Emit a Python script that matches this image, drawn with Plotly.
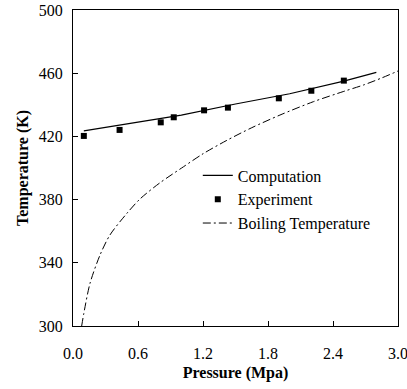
import plotly.graph_objects as go

comp_p = [0.1, 0.5, 1.0, 1.5, 2.0, 2.5, 2.8]
comp_t = [423.5, 428.0, 433.5, 440.5, 447.0, 455.0, 460.5]

exp_p = [0.10, 0.43, 0.81, 0.93, 1.21, 1.43, 1.90, 2.20, 2.50]
exp_t = [420.3, 424.1, 428.9, 432.1, 436.5, 438.2, 444.1, 448.9, 455.3]

boil_p = [0.08, 0.10, 0.157, 0.25, 0.34, 0.5, 0.62, 0.8, 1.02, 1.2, 1.42, 1.65, 1.91, 2.22, 2.5, 2.68, 2.85, 3.02]
boil_t = [300, 308, 327, 345, 357.5, 371.5, 380.5, 390.5, 400.8, 409, 417.5, 425.5, 433.5, 442, 448.5, 452.5, 457, 462]

x_ticks = [0.0, 0.6, 1.2, 1.8, 2.4, 3.0]
x_tick_text = ["0.0", "0.6", "1.2", "1.8", "2.4", "3.0"]
y_ticks = [300, 340, 380, 420, 460, 500]

font = "Times New Roman, Liberation Serif, serif"
f16 = dict(family=font, size=16, color="black")

fig = go.Figure()
fig.add_trace(go.Scatter(x=comp_p, y=comp_t, mode="lines", name="Computation",
                         line=dict(color="black", width=1.2)))
fig.add_trace(go.Scatter(x=exp_p, y=exp_t, mode="markers", name="Experiment",
                         marker=dict(symbol="square", size=6, color="black")))
fig.add_trace(go.Scatter(x=boil_p, y=boil_t, mode="lines", name="Boiling Temperature",
                         line=dict(color="black", width=1, dash="8px,3px,2px,3px",
                                   shape="spline", smoothing=0.8)))

fig.update_layout(
    width=407, height=389,
    margin=dict(l=73, r=9, t=10, b=63),
    plot_bgcolor="white", paper_bgcolor="white",
    font=f16,
    showlegend=True,
    legend=dict(x=0.384, y=0.53, xanchor="left", yanchor="top",
                bgcolor="rgba(0,0,0,0)", borderwidth=0,
                font=f16, tracegroupgap=0),
    xaxis=dict(range=[0, 3.0], tickvals=x_ticks, ticktext=x_tick_text,
               ticks="inside", ticklen=5, tickcolor="black", tickfont=f16,
               ticklabeloverflow="allow",
               showline=True, linecolor="black", linewidth=1.2, mirror=True,
               showgrid=False, zeroline=False, ticklabelstandoff=13,
               automargin=False,
               title=dict(text="<b>Pressure (Mpa)</b>", standoff=5, font=f16)),
    yaxis=dict(range=[300, 500], tickvals=y_ticks,
               ticks="inside", ticklen=5, tickcolor="black", tickfont=f16,
               ticklabeloverflow="allow",
               showline=True, linecolor="black", linewidth=1.2, mirror=True,
               showgrid=False, zeroline=False, ticklabelstandoff=6,
               automargin=False,
               title=dict(text="<b>Temperature (K)</b>", standoff=6, font=f16)),
)

fig.write_html("out.html")
